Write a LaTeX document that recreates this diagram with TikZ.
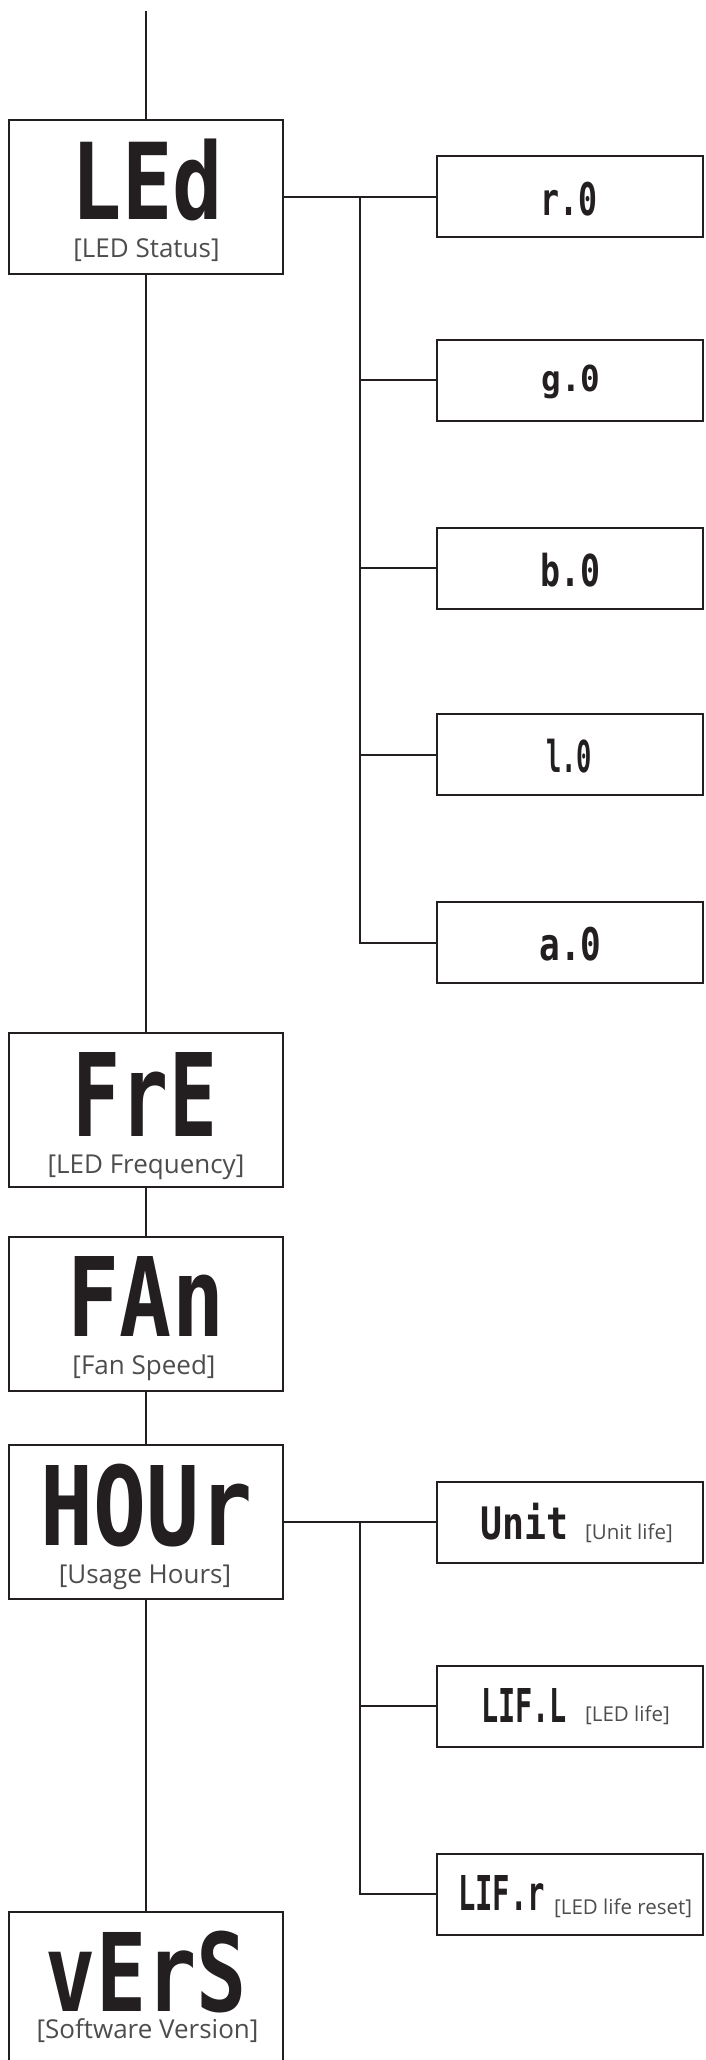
\documentclass[tikz,border=0pt]{standalone}
\usepackage{fontspec}
\usepackage{graphicx}
\setmainfont{Open Sans}
\newfontfamily\segfont{DejaVu Sans Mono}
\definecolor{linec}{RGB}{35,31,32}
\definecolor{labc}{RGB}{78,76,78}
\newcommand{\segtxt}[3]{\resizebox*{#1pt}{#2pt}{\segfont\bfseries #3}}
\begin{document}
\begin{tikzpicture}[x=1pt,y=-1pt,
  bigbox/.style={draw=linec, line width=2pt, minimum width=274pt, minimum height=154pt, inner sep=0pt, outer sep=0pt, anchor=north west},
  smallbox/.style={draw=linec, line width=2pt, minimum width=266pt, minimum height=81pt, inner sep=0pt, outer sep=0pt},
  link/.style={draw=linec, line width=2pt},
  seg/.style={inner sep=0pt, text=linec},
  lab/.style={font=\fontsize{26}{28}\selectfont, text=labc, inner sep=0pt, anchor=base},
  slab/.style={font=\fontsize{20.5}{22}\selectfont, text=labc, inner sep=0pt, anchor=base west}]
\useasboundingbox (0,0) rectangle (706,2060);
\clip (0,0) rectangle (706,2060);

% left column boxes
\node[bigbox] (led) at (9,120) {};
\node[bigbox] (fre) at (9,1033) {};
\node[bigbox] (fan) at (9,1237) {};
\node[bigbox] (hour) at (9,1445) {};
\node[bigbox] (vers) at (9,1912) {};

\node[seg] (ledt) at (147.5,180) {\segtxt{151}{82}{LEd}};
\node[lab] (ledl) at (146.5,258) {[LED Status]};
\node[seg] (fret) at (145,1094) {\segtxt{144}{84}{FrE}};
\node[lab] (frel) at (146,1173) {[LED Frequency]};
\node[seg] (fant) at (146,1296) {\segtxt{156}{80}{FAn}};
\node[lab] (fanl) at (144,1374) {[Fan Speed]};
\node[seg] (hourt) at (147,1505.5) {\segtxt{212}{83}{HOUr}};
\node[lab] (hourl) at (145,1583) {[Usage Hours]};
\node[seg] (verst) at (146.5,1972) {\segtxt{201}{82}{vErS}};
\node[lab] (versl) at (147.5,2038) {[Software Version]};

% right boxes (LED status)
\node[smallbox] (r0) at (570,197) {};
\node[smallbox] (g0) at (570,380) {};
\node[smallbox] (b0) at (570,568) {};
\node[smallbox] (l0) at (570,754.5) {};
\node[smallbox] (a0) at (570,942.5) {};
\node[seg] (r0t) at (568.5,199) {\segtxt{57}{34}{r.0}};
\node[seg] (g0t) at (571,382) {\segtxt{59}{34}{g.0}};
\node[seg] (b0t) at (570,570) {\segtxt{60}{34}{b.0}};
\node[seg] (l0t) at (569,756.5) {\segtxt{46}{34}{l.0}};
\node[seg] (a0t) at (570.5,944.5) {\segtxt{62}{34}{a.0}};

% right boxes (usage hours)
\node[smallbox] (unit) at (570,1522) {};
\node[smallbox] (lifl) at (570,1706) {};
\node[smallbox] (lifr) at (570,1894) {};
\node[seg] (unitt) at (524,1521.5) {\segtxt{88}{37}{Unit}};
\node[slab] (unitl) at (585,1539) {[Unit life]};
\node[seg] (liflt) at (524,1705) {\segtxt{86}{34}{LIF.L}};
\node[slab] (lifll) at (585,1721) {[LED life]};
\node[seg] (lifrt) at (501.5,1892.5) {\segtxt{87}{35}{LIF.r}};
\node[slab] (lifrl) at (554,1914) {[LED life reset]};

% connectors
\coordinate (top) at (146,11);
\draw[link] (top) -- (led.north);
\draw[link] (led.south) -- (fre.north);
\draw[link] (fre.south) -- (fan.north);
\draw[link] (fan.south) -- (hour.north);
\draw[link] (hour.south) -- (vers.north);

\coordinate (j1) at ([xshift=77pt]led.east);
\draw[link] (led.east) -- (j1) -- (r0.west);
\draw[link] (j1) |- (a0.west);
\draw[link] (j1 |- g0.west) -- (g0.west);
\draw[link] (j1 |- b0.west) -- (b0.west);
\draw[link] (j1 |- l0.west) -- (l0.west);

\coordinate (j2) at ([xshift=77pt]hour.east);
\draw[link] (hour.east) -- (j2) -- (unit.west);
\draw[link] (j2) |- (lifr.west);
\draw[link] (j2 |- lifl.west) -- (lifl.west);
\end{tikzpicture}
\end{document}
